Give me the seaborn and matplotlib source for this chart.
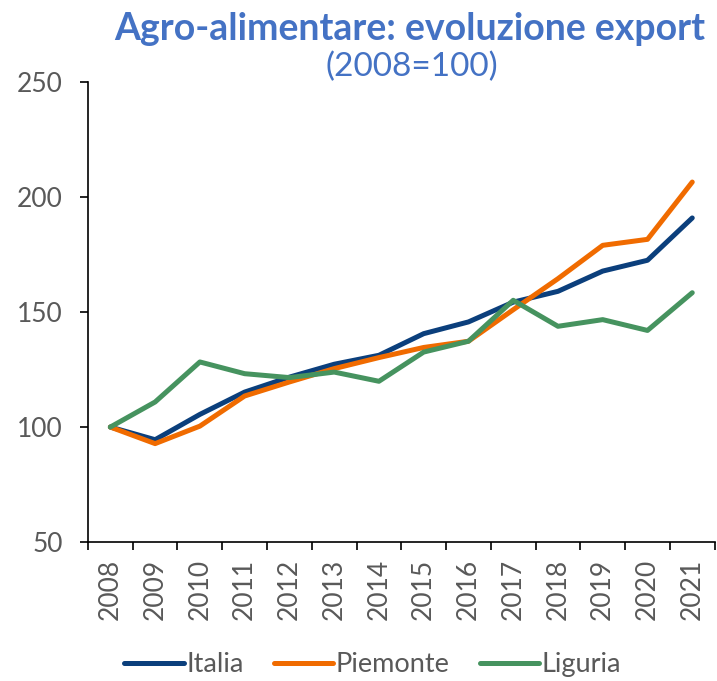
import numpy as np
import pandas as pd
import matplotlib
matplotlib.use("Agg")
import matplotlib.pyplot as plt
import seaborn as sns
from matplotlib.ticker import FixedLocator


YEARS = list(range(2008, 2022))
ITALIA = [100, 94.5, 105.5, 115.2, 121.7, 127.3, 131.2, 140.6, 145.7, 154.3, 159.0, 167.8, 172.5, 190.9]
PIEMONTE = [100, 92.8, 100.4, 113.5, 119.6, 125.4, 130.2, 134.6, 137.3, 151.0, 164.5, 179.0, 181.6, 206.5]
LIGURIA = [100, 110.9, 128.3, 123.2, 121.5, 123.9, 119.9, 132.6, 137.3, 155.1, 143.8, 146.7, 142.0, 158.4]

SERIES = ["Italia", "Piemonte", "Liguria"]
COLORS = ["#0B3F7C", "#F06B00", "#46935F"]
TITLE = "Agro-alimentare: evoluzione export"
SUBTITLE = "(2008=100)"
Y_TICKS = [50, 100, 150, 200, 250]

TEXT_GRAY = "#595959"
TITLE_BLUE = "#4472C4"


def build_frame():
    frames = []
    for name, vals in zip(SERIES, [ITALIA, PIEMONTE, LIGURIA]):
        frames.append(pd.DataFrame({"anno": YEARS, "valore": vals, "serie": name}))
    return pd.concat(frames, ignore_index=True)


def main():
    sns.set_style("ticks")
    plt.rcParams["font.family"] = ["Lato", "DejaVu Sans"]

    df = build_frame()

    fig = plt.figure(figsize=(7.17, 6.81), dpi=100)
    ax = fig.add_axes([0.1227, 0.204, 0.874, 0.6756])

    sns.lineplot(
        data=df, x="anno", y="valore", hue="serie",
        palette=dict(zip(SERIES, COLORS)), hue_order=SERIES,
        linewidth=3.6, ax=ax, legend=False,
    )
    for line in ax.lines:
        line.set_solid_capstyle("round")

    ax.set_xlim(YEARS[0] - 0.5, YEARS[-1] + 0.5)
    ax.set_ylim(Y_TICKS[0], Y_TICKS[-1])
    ax.set_yticks(Y_TICKS)
    ax.set_xticks(YEARS)
    ax.set_xticklabels([str(y) for y in YEARS], rotation=90)
    ax.xaxis.set_minor_locator(FixedLocator(np.arange(YEARS[0] - 0.5, YEARS[-1] + 1, 1)))
    ax.tick_params(axis="x", which="major", length=0, pad=12, labelsize=19, labelcolor=TEXT_GRAY)
    ax.tick_params(axis="x", which="minor", length=6, width=1.2, color="black", direction="out")
    ax.tick_params(axis="y", length=6, width=1.2, color="black", pad=12, labelsize=19, labelcolor=TEXT_GRAY)
    ax.set_xlabel("")
    ax.set_ylabel("")
    sns.despine(ax=ax)
    for side in ["left", "bottom"]:
        ax.spines[side].set_linewidth(1.2)
        ax.spines[side].set_color("black")

    fig.text(0.572, 0.958, TITLE, ha="center", va="center", fontsize=27,
             fontweight="bold", color=TITLE_BLUE)
    fig.text(0.575, 0.901, SUBTITLE, ha="center", va="center", fontsize=24,
             color=TITLE_BLUE)

    handles = [plt.Line2D([], [], color=c, linewidth=3.6, solid_capstyle="round") for c in COLORS]
    leg = fig.legend(handles, SERIES, loc="center", bbox_to_anchor=(0.52, 0.024),
                     ncol=3, frameon=False, fontsize=19.5, handlelength=2.2,
                     handletextpad=0.1, columnspacing=1.1, borderpad=0)
    for t in leg.get_texts():
        t.set_color(TEXT_GRAY)

    fig.savefig("out.png", dpi=100)


if __name__ == "__main__":
    main()
